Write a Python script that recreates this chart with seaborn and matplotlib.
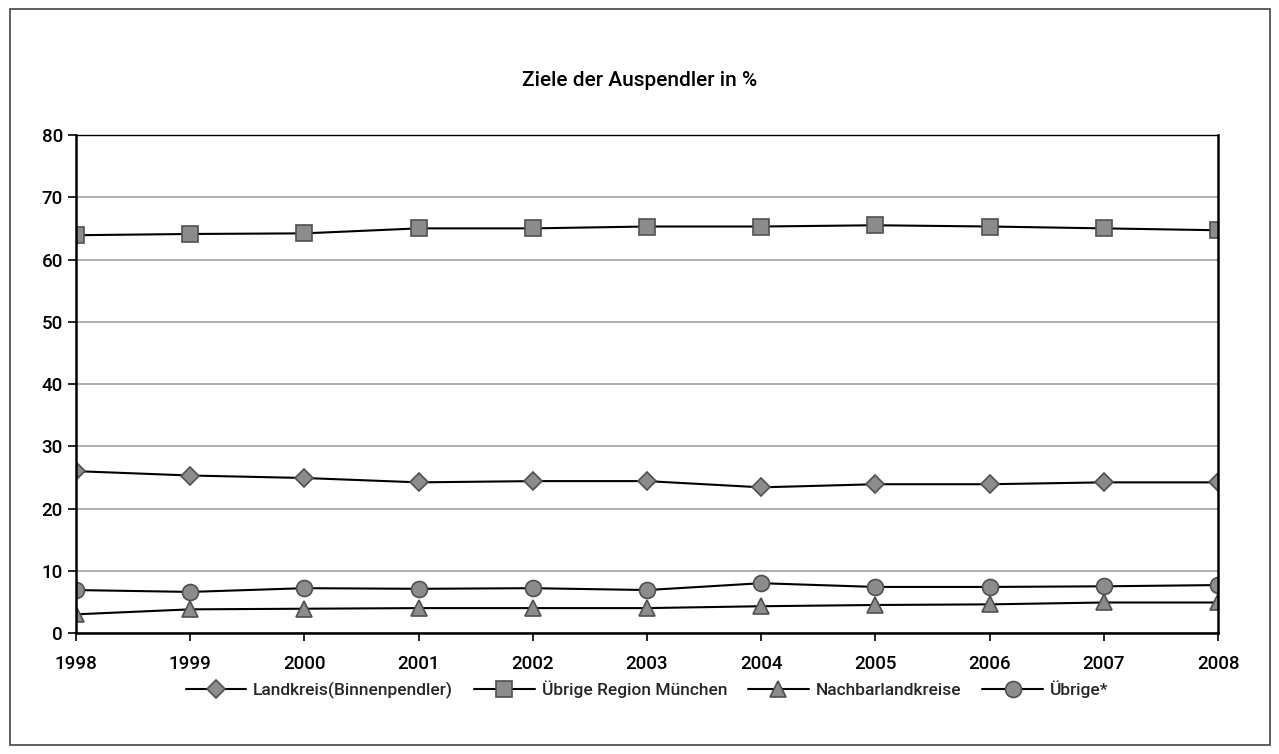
import matplotlib
matplotlib.use('Agg')
import matplotlib.pyplot as plt
import matplotlib.patches as mpatches
import seaborn as sns
import pandas as pd

# Data
years = [1998, 1999, 2000, 2001, 2002, 2003, 2004, 2005, 2006, 2007, 2008]
landkreis = [26.0, 25.3, 24.9, 24.2, 24.4, 24.4, 23.4, 23.9, 23.9, 24.2, 24.2]
region_muenchen = [63.9, 64.1, 64.2, 65.0, 65.0, 65.3, 65.3, 65.5, 65.3, 65.0, 64.7]
nachbar = [3.0, 3.8, 3.9, 4.0, 4.0, 4.0, 4.3, 4.5, 4.6, 4.9, 4.9]
uebrige = [6.9, 6.6, 7.2, 7.1, 7.2, 6.9, 8.0, 7.4, 7.4, 7.5, 7.7]
series_names = ["Landkreis(Binnenpendler)", "Übrige Region München", "Nachbarlandkreise", "Übrige*"]
y_ticks = [0, 10, 20, 30, 40, 50, 60, 70, 80]

rows = []
for name, vals in zip(series_names, [landkreis, region_muenchen, nachbar, uebrige]):
    for yr, v in zip(years, vals):
        rows.append({"Jahr": yr, "Wert": v, "Serie": name})
df = pd.DataFrame(rows)

sns.set_theme(style="white")
plt.rcParams['font.family'] = ['Roboto', 'DejaVu Sans']
plt.rcParams['font.weight'] = 'medium'

fig = plt.figure(figsize=(12.79, 7.54), dpi=100)
ax = fig.add_axes([76 / 1279, 1 - 633 / 754, (1218 - 76) / 1279, (633 - 135) / 754])

markers = {"Landkreis(Binnenpendler)": "D", "Übrige Region München": "s",
           "Nachbarlandkreise": "^", "Übrige*": "o"}
sizes = {"Landkreis(Binnenpendler)": 9, "Übrige Region München": 11.5,
         "Nachbarlandkreise": 12, "Übrige*": 11.5}
for name in series_names:
    sub = df[df["Serie"] == name]
    sns.lineplot(data=sub, x="Jahr", y="Wert", ax=ax, color="black", linewidth=1.5,
                 marker=markers[name], markersize=sizes[name], markerfacecolor="#8c8c8c",
                 markeredgecolor="#505050", markeredgewidth=1.2, label=name)

ax.set_xlim(years[0], years[-1])
ax.set_ylim(0, 80)
ax.set_xticks(years)
ax.set_yticks(y_ticks)
ax.set_xlabel("")
ax.set_ylabel("")
ax.grid(axis="y", color="#a0a0a0", linewidth=1.2)
ax.set_axisbelow(True)
for side in ["left", "right", "top", "bottom"]:
    ax.spines[side].set_visible(True)
    ax.spines[side].set_color("black")
    ax.spines[side].set_linewidth(1.8)
ax.spines["top"].set_linewidth(1.0)
ax.tick_params(axis="both", which="both", direction="out", length=6, width=1.2,
               color="black", labelsize=13.5, labelcolor="black", left=True, bottom=True)
ax.tick_params(axis="x", pad=10)

fig.text(0.5, 1 - 80 / 754, "Ziele der Auspendler in %", ha="center", va="center",
         fontsize=15, color="black")

ax.legend(loc="center", bbox_to_anchor=(0.5, (633 - 690) / (633 - 135)), ncol=4,
          frameon=False, fontsize=12.5, handlelength=3.5, columnspacing=1.2, handletextpad=0.4)

fig.patches.append(mpatches.Rectangle((10 / 1279, 9 / 754), 1260 / 1279, 736 / 754,
                                      transform=fig.transFigure, fill=False,
                                      edgecolor="#444444", linewidth=1.2))

fig.savefig("out.png", dpi=100)
